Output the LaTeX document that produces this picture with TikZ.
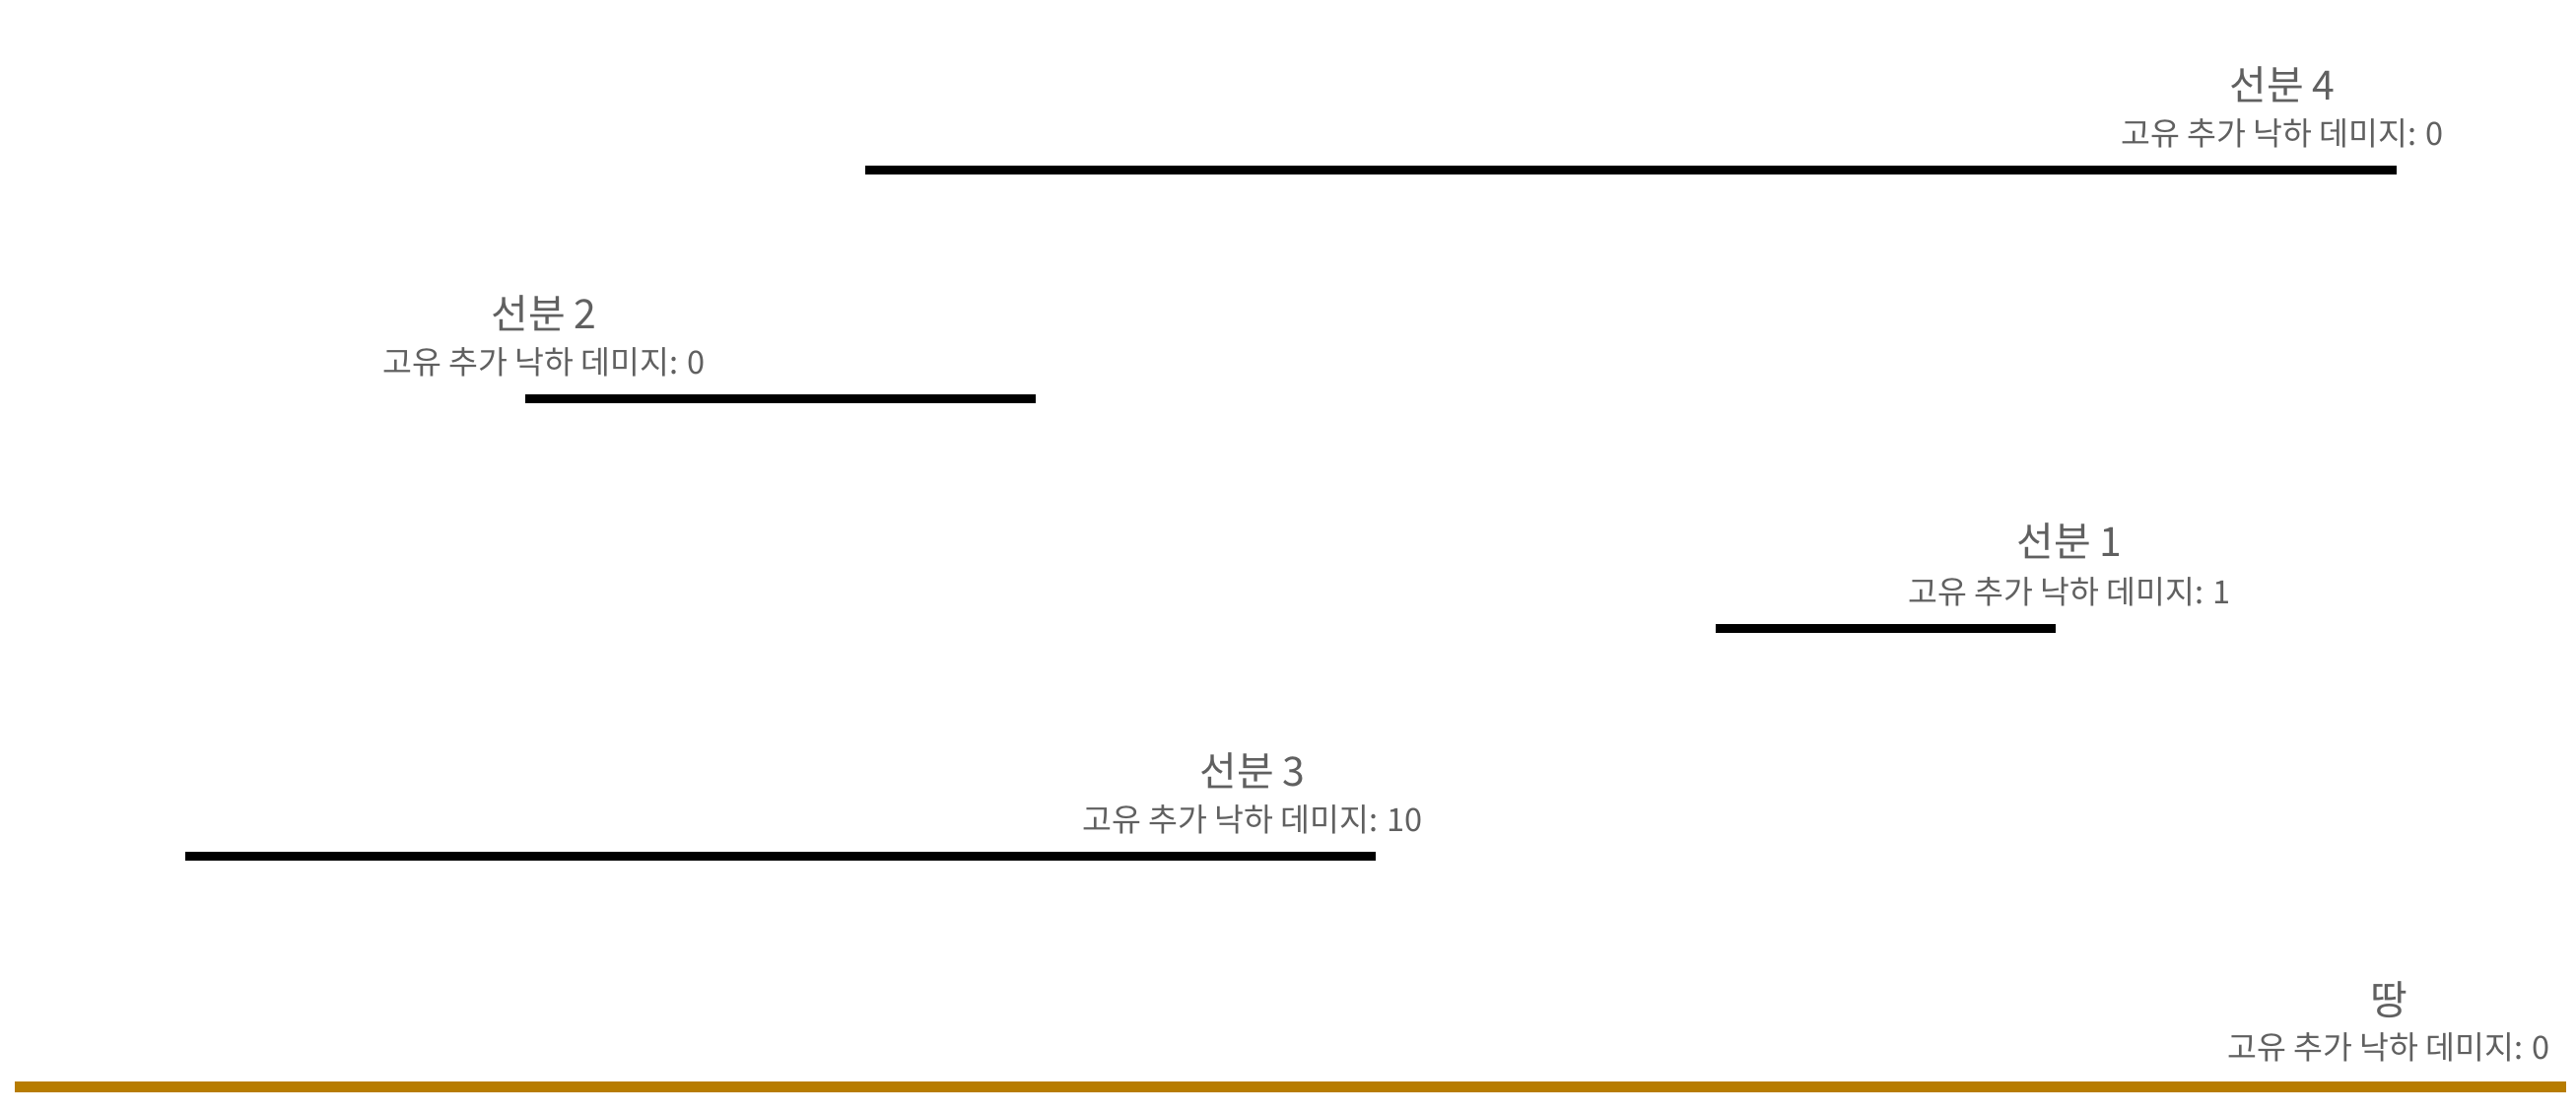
\documentclass[tikz,border=0pt]{standalone}
\usepackage{fontspec}
\setmainfont{Noto Sans CJK KR}
\definecolor{txt}{HTML}{606060}
\definecolor{groundcol}{HTML}{B77C00}
\begin{document}
\begin{tikzpicture}[x=1pt,y=-1pt,
  seg/.style={line width=9pt},
  gnd/.style={line width=10.5pt,draw=groundcol},
  ttl/.style={text=txt,font=\fontsize{41}{46}\selectfont,inner sep=0pt,anchor=center},
  sub/.style={text=txt,font=\fontsize{32.5}{38}\selectfont,inner sep=0pt,anchor=center}]
\useasboundingbox (0,0) rectangle (2614,1130);
% segment 4
\coordinate (s4a) at (878,172);
\coordinate (s4b) at (2432,172);
\draw[seg] (s4a) -- (s4b);
\node[ttl] (t4) at (2316,85.5) {선분 4};
\node[sub] (d4) at (2316,135) {고유 추가 낙하 데미지: 0};
% segment 2
\coordinate (s2a) at (533,404.5);
\coordinate (s2b) at (1051,404.5);
\draw[seg] (s2a) -- (s2b);
\node[ttl] (t2) at (552,318) {선분 2};
\node[sub] (d2) at (552,367.5) {고유 추가 낙하 데미지: 0};
% segment 1
\coordinate (s1a) at (1741,637.5);
\coordinate (s1b) at (2086,637.5);
\draw[seg] (s1a) -- (s1b);
\node[ttl] (t1) at (2100,549) {선분 1};
\node[sub] (d1) at (2100,600) {고유 추가 낙하 데미지: 1};
% segment 3
\coordinate (s3a) at (188,868.5);
\coordinate (s3b) at (1396,868.5);
\draw[seg] (s3a) -- (s3b);
\node[ttl] (t3) at (1271,782) {선분 3};
\node[sub] (d3) at (1271,831.5) {고유 추가 낙하 데미지: 10};
% ground
\coordinate (ga) at (15,1102.3);
\coordinate (gb) at (2604,1102.3);
\draw[gnd] (ga) -- (gb);
\node[ttl] (tg) at (2424,1014) {땅};
\node[sub] (dg) at (2424,1062) {고유 추가 낙하 데미지: 0};
\end{tikzpicture}
\end{document}
